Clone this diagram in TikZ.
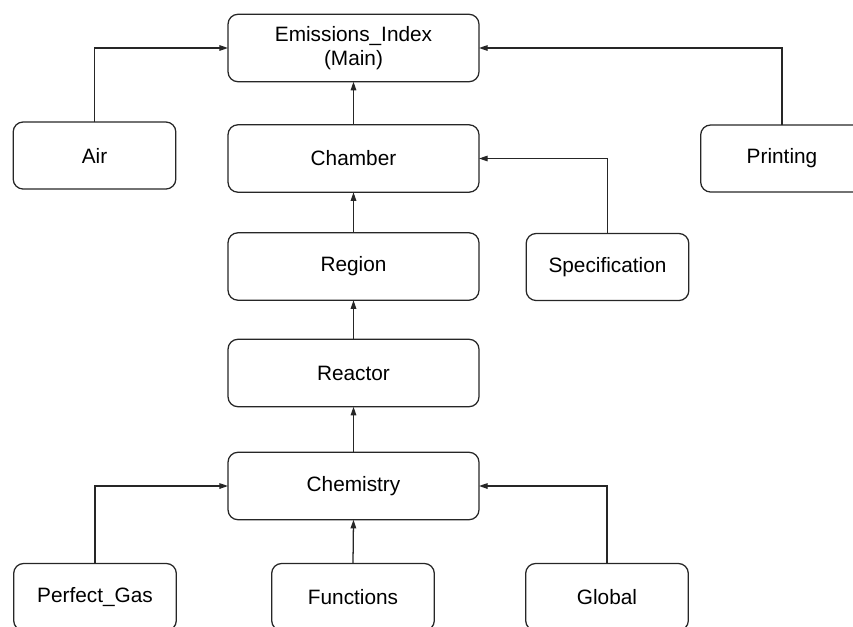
\documentclass[tikz,border=0pt]{standalone}
\usepackage{fontspec}
\setmainfont{Liberation Sans}
\usetikzlibrary{arrows.meta}
\begin{document}
\begin{tikzpicture}[x=0.75pt,y=-0.75pt,
  box/.style={draw=black!85, line width=0.95pt, rounded corners=7.5pt, rectangle,
    inner sep=0pt, outer sep=0pt, align=center,
    font=\fontsize{15.6}{18}\selectfont},
  big/.style={box, minimum width=188.25pt, minimum height=50.6pt},
  small/.style={box, minimum width=122pt, minimum height=50.3pt},
  conn/.style={draw=black!85, line width=0.95pt, -{Triangle[length=6.5pt,width=4.2pt]}}]
\useasboundingbox (0,0) rectangle (853,626);
\clip (0,0) rectangle (853,626);
\node[big]   (main)    at (353.5,48)    {Emissions\_Index\\(Main)};
\node[small] (air)     at (94.5,155.5)  {Air};
\node[big]   (chamber) at (353.5,158.5) {Chamber};
\node[small] (print)   at (782,158.5)   {Printing};
\node[big]   (region)  at (353.5,266.5) {Region};
\node[small] (spec)    at (607.5,267)   {Specification};
\node[big]   (reactor) at (353.5,373)   {Reactor};
\node[big]   (chem)    at (353.5,486)   {Chemistry};
\node[small] (pgas)    at (95,597)      {Perfect\_Gas};
\node[small] (func)    at (353,597)     {Functions};
\node[small] (glob)    at (607,597)     {Global};
\draw[conn] (air.north) |- (main.west);
\draw[conn] (print.north) |- (main.east);
\draw[conn] (chamber.north) -- (main.south);
\draw[conn] (spec.north) |- (chamber.east);
\draw[conn] (region.north) -- (chamber.south);
\draw[conn] (reactor.north) -- (region.south);
\draw[conn] (chem.north) -- (reactor.south);
\draw[conn] (func.north) -- (chem.south);
\draw[conn] (pgas.north) |- (chem.west);
\draw[conn] (glob.north) |- (chem.east);
\end{tikzpicture}
\end{document}
